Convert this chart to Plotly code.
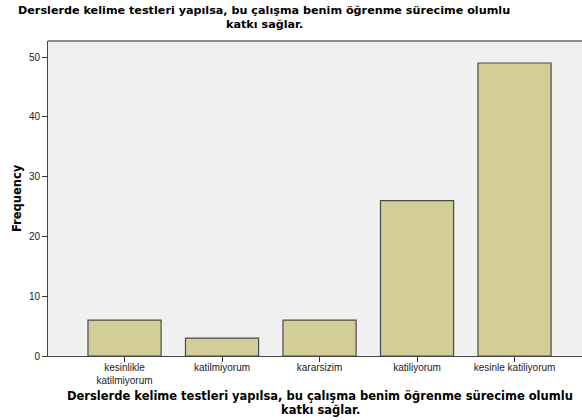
import plotly.graph_objects as go

categories = ["kesinlikle<br>katilmiyorum", "katilmiyorum", "kararsizim", "katiliyorum", "kesinle katiliyorum"]
frequency = [6, 3, 6, 26, 49]
y_ticks = [0, 10, 20, 30, 40, 50]
title_lines = ["Derslerde kelime testleri yapılsa, bu çalışma benim öğrenme sürecime olumlu",
               "katkı sağlar."]
y_title = "Frequency"

FONT = "Liberation Sans, Arial, sans-serif"
BOLD = "DejaVu Sans, sans-serif"

L, R, T, B = 48, 0, 41, 64
PW, PH = 582 - L - R, 420 - T - B


def px(x):
    return (x - L) / PW


def py(y):
    return (420 - B - y) / PH


fig = go.Figure()
fig.add_trace(go.Bar(
    x=list(range(len(categories))),
    y=frequency,
    width=0.75,
    marker=dict(color="#d3ce98", line=dict(color="#4a4a4a", width=1.2)),
    hoverinfo="y",
))

annotations = []
for i, line in enumerate(title_lines):
    annotations.append(dict(text="<b>" + line + "</b>", xref="paper", yref="paper",
                            x=px(264), y=py(10.5 + 14.5 * i), xanchor="center", yanchor="middle",
                            showarrow=False, font=dict(size=11.2, color="#000", family=BOLD)))
    annotations.append(dict(text="<b>" + line + "</b>", xref="paper", yref="paper",
                            x=px(320), y=py(395.5 + 14 * i), xanchor="center", yanchor="middle",
                            showarrow=False, font=dict(size=11.5, color="#000", family=BOLD)))
annotations.append(dict(text="<b>" + y_title + "</b>", xref="paper", yref="paper",
                        x=px(17), y=py(198), xanchor="center", yanchor="middle", textangle=-90,
                        showarrow=False, font=dict(size=11.5, color="#000", family=BOLD)))

fig.update_layout(
    width=582, height=420,
    margin=dict(l=L, r=R, t=T, b=B),
    paper_bgcolor="white",
    plot_bgcolor="#f0f0f0",
    showlegend=False,
    font=dict(family=FONT, color="#222", size=10),
    xaxis=dict(
        range=[-0.785, 4.692],
        tickmode="array",
        tickvals=list(range(len(categories))),
        ticktext=categories,
        ticks="outside", ticklen=5, tickcolor="#333", tickwidth=1,
        showline=True, linecolor="#444", linewidth=1,
        showgrid=False, zeroline=False, automargin=False,
        tickfont=dict(size=10, color="#222"),
        ticklabelstandoff=-3,
    ),
    yaxis=dict(
        range=[0, 52.68],
        tickmode="array",
        tickvals=y_ticks,
        ticks="outside", ticklen=5, tickcolor="#333", tickwidth=1,
        showline=True, linecolor="#444", linewidth=1,
        showgrid=False, zeroline=False, automargin=False,
        tickfont=dict(size=10, color="#222"),
    ),
    shapes=[
        dict(type="line", xref="paper", yref="paper", x0=0, x1=1, y0=1, y1=1,
             line=dict(color="#8a8a8a", width=2)),
    ],
    annotations=annotations,
)

fig.write_html("out.html", config={"displayModeBar": False},
               post_script="document.body.style.margin='0';document.body.style.overflow='hidden';")
